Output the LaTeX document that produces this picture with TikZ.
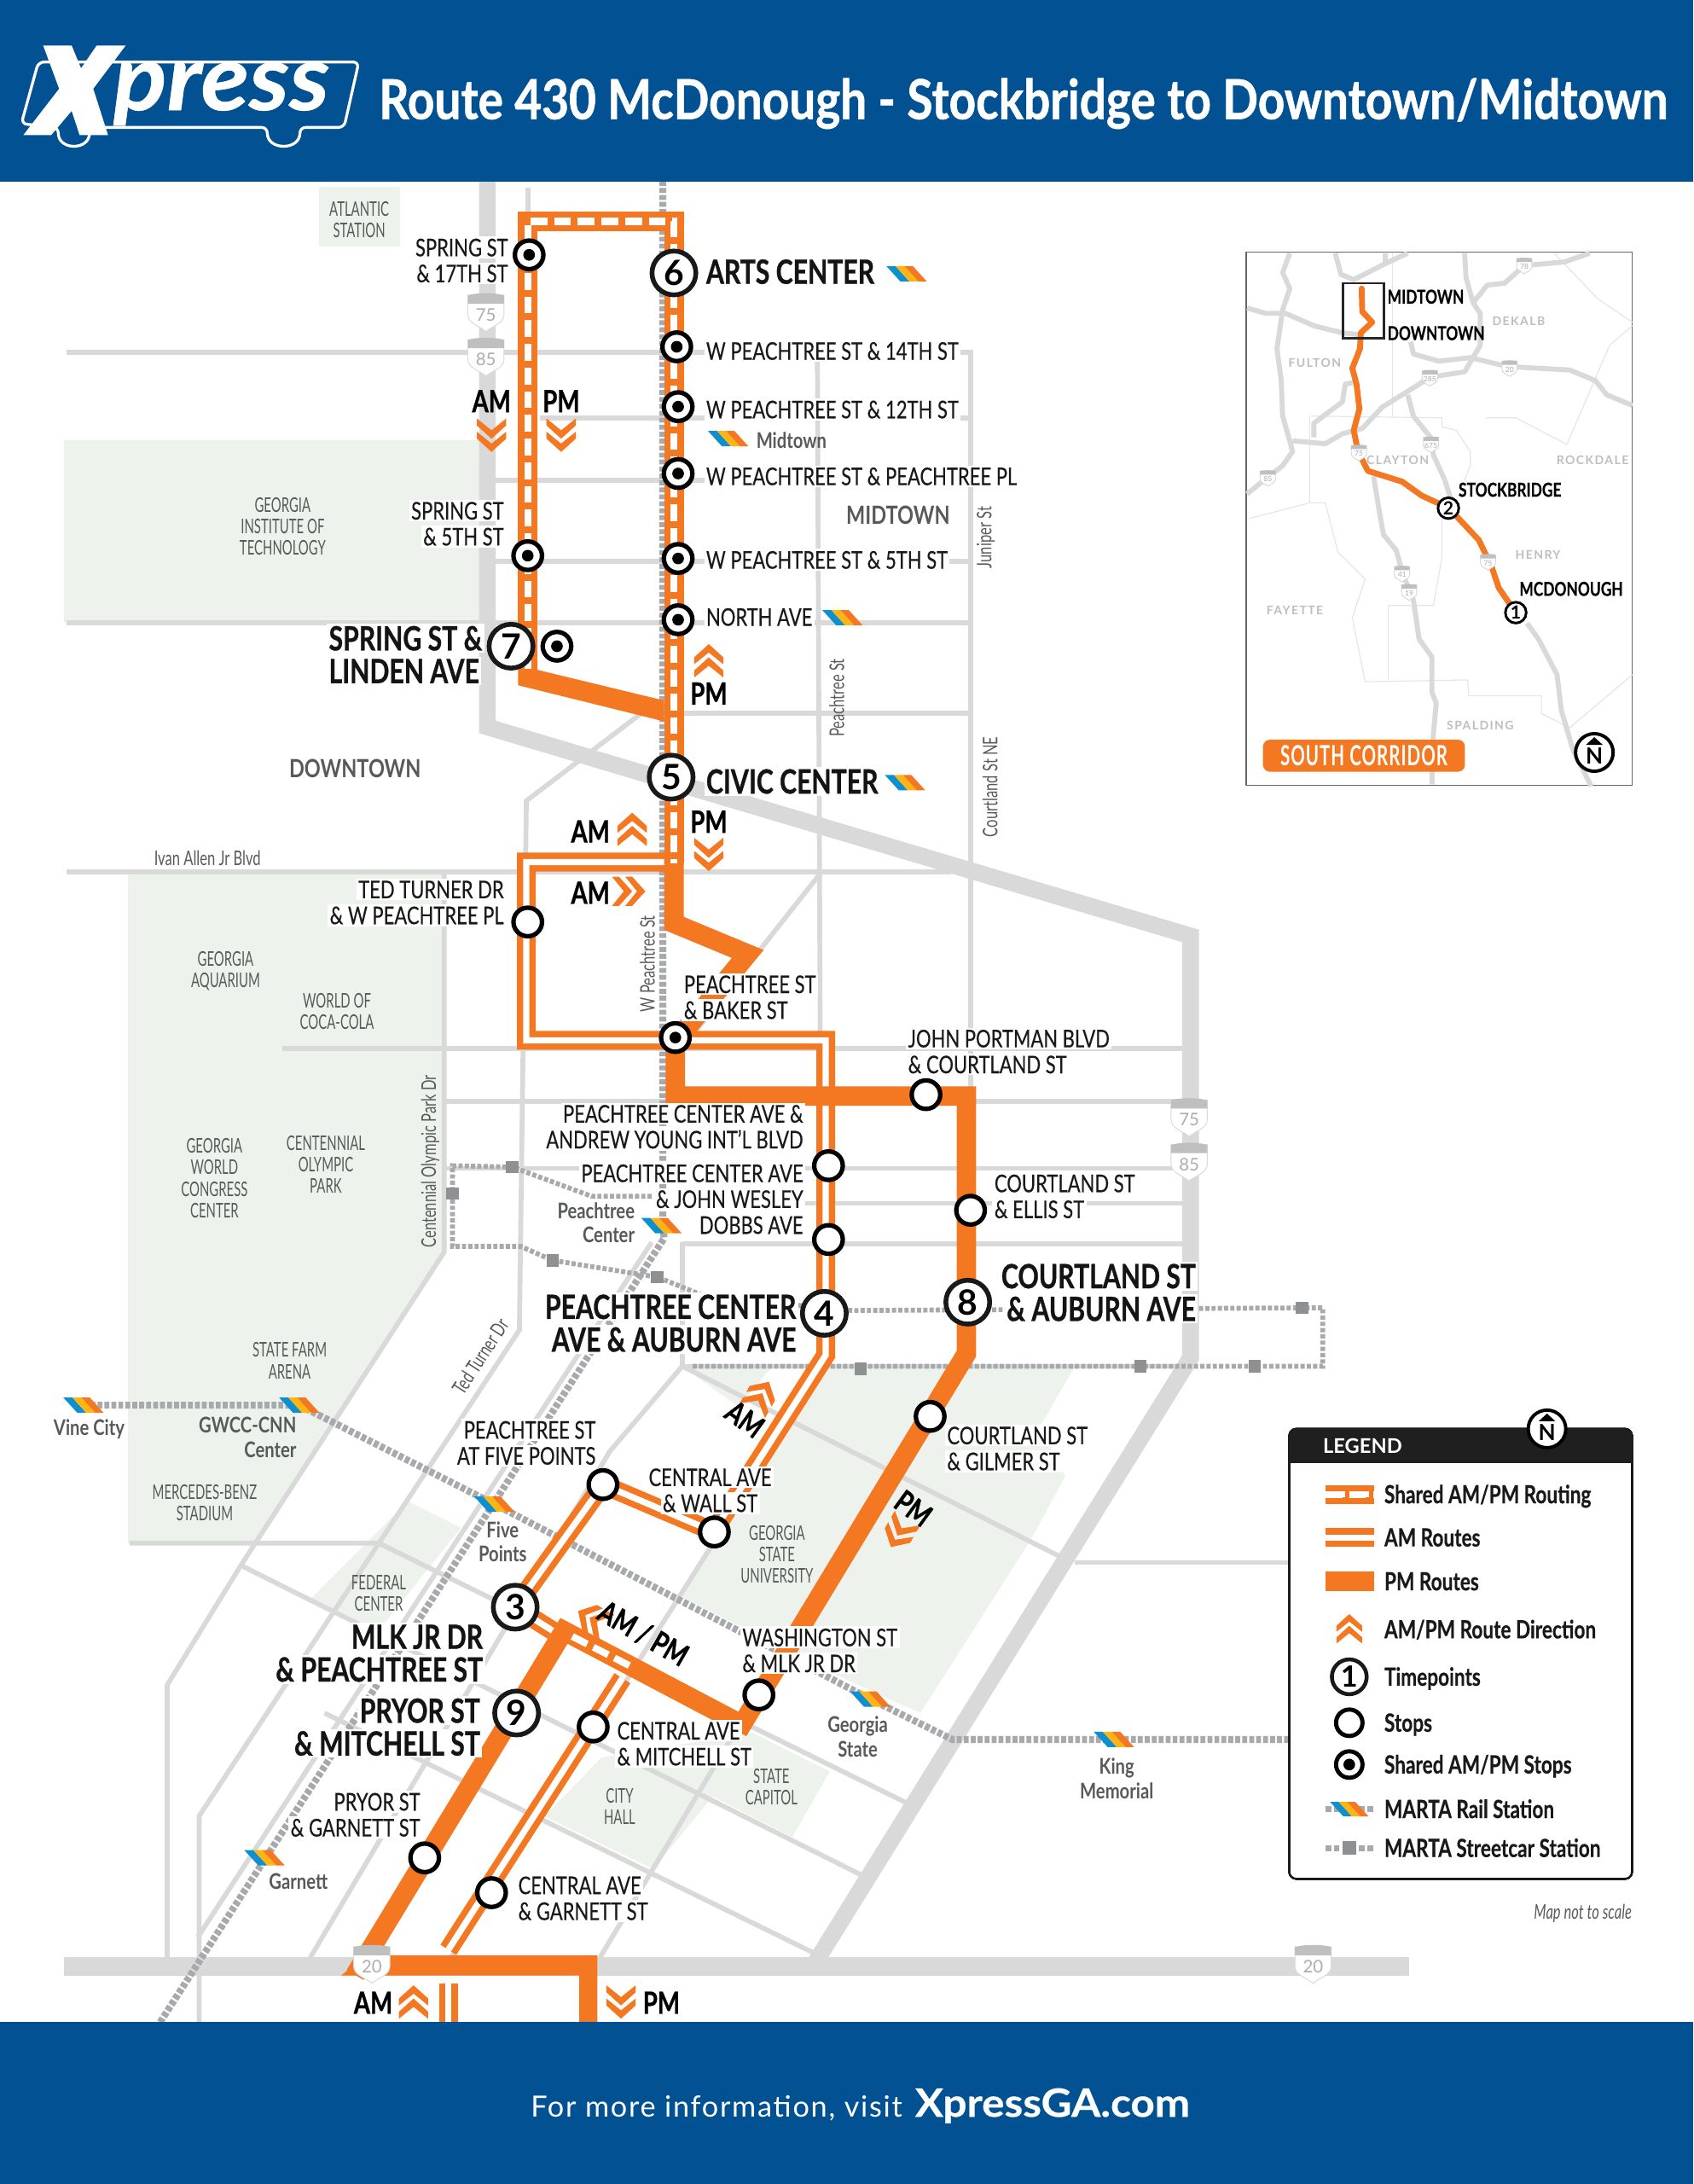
\documentclass[tikz,border=0pt]{standalone}
\usepackage{fontspec}
\usetikzlibrary{positioning}
\setmainfont{Lato}
\newfontfamily\cnd[FakeStretch=0.77,FakeBold=0.35]{Lato}
\newfontfamily\cndb[FakeStretch=0.77,FakeBold=0.7]{Lato}
\newfontfamily\stn[FakeStretch=0.80]{Lato}
\newfontfamily\plc[FakeStretch=0.63]{Lato}
\newfontfamily\strt[FakeStretch=0.70]{Lato}
\newfontfamily\ttl[FakeStretch=0.852,FakeBold=0.9]{Lato}
\newfontfamily\wid[FakeStretch=1.08,FakeBold=0.5]{Lato}
\definecolor{xblue}{HTML}{025193}
\definecolor{routeorange}{HTML}{F47721}
\definecolor{roadgray}{HTML}{D9D9D9}
\definecolor{parkgreen}{HTML}{EDF3EC}
\definecolor{dotgray}{HTML}{A7A9AC}
\definecolor{labelgray}{HTML}{58595B}
\definecolor{railblue}{HTML}{0E8FCF}
\definecolor{railyellow}{HTML}{FDB515}
% white band behind a line of a map label
\newsavebox{\hlbox}
\newcommand{\hl}[1]{\leavevmode\sbox{\hlbox}{#1}\rlap{\hspace{-1.5pt}\textcolor{white}{\rule[-1.5pt]{\dimexpr\wd\hlbox+3pt\relax}{\dimexpr\ht\hlbox+3pt\relax}}}\usebox{\hlbox}}
% interstate shield
\newcommand{\shieldSign}[4]{
  \begin{scope}[shift={(#1,#2)},scale=#3]
    \filldraw[fill=white,draw=roadgray,line width=0.6pt] (-13,-12) -- (13,-12) -- (13,2) .. controls (13,8) and (5,10) .. (0,14) .. controls (-5,10) and (-13,8) .. (-13,2) -- cycle;
    \fill[black!25] (-13,-12) .. controls (-6,-14) and (6,-14) .. (13,-12) -- (13,-6) -- (-13,-6) -- cycle;
    \node[font=\fontsize{12.5}{13}\selectfont,text=black!32,scale=#3] at (0,2) {#4};
  \end{scope}
}
\tikzset{
  road/.style={draw=roadgray,line width=3.5pt},
  highway/.style={draw=roadgray,line width=12pt},
  amroute/.style={draw=routeorange,line width=4.5pt,double=white,double distance=4.5pt,line join=miter},
  pmroute/.style={draw=routeorange,line width=14pt,line join=miter},
  sharedroute/.style={draw=routeorange,line width=14pt,line join=miter,postaction={draw=white,line width=5pt,dash pattern=on 12pt off 5pt}},
  raildots/.style={draw=dotgray,line width=5pt,dash pattern=on 3.5pt off 1.5pt},
  cardots/.style={draw=dotgray,line width=3.5pt,dash pattern=on 3pt off 1.5pt},
  carstop/.style={fill=dotgray!85!black,minimum size=9pt,inner sep=0pt},
  stopopen/.style={circle,draw=black,fill=white,line width=3.2pt,minimum size=20.5pt,inner sep=0pt},
  stopshared/.style={circle,draw=black,fill=white,line width=3.2pt,minimum size=20.5pt,inner sep=0pt,
    path picture={\fill[black] (path picture bounding box.center) circle (4.2pt);}},
  timepoint/.style={circle,draw=black!90,fill=white,line width=3.4pt,minimum size=31.5pt,inner sep=0pt,font=\bfseries\fontsize{25}{25}\selectfont},
  stoplbl/.style={font=\cnd\fontsize{17.5}{18.6}\selectfont,text=black!90,inner sep=0pt},
  biglbl/.style={font=\cndb\bfseries\fontsize{24}{23.5}\selectfont,text=black!92,inner sep=0pt},
  dirlbl/.style={font=\cndb\bfseries\fontsize{22}{22}\selectfont,text=black,inner sep=0pt},
  placelbl/.style={font=\plc\fontsize{14.5}{15.4}\selectfont,text=labelgray,align=center,inner sep=0pt},
  stationlbl/.style={font=\stn\bfseries\fontsize{15.5}{17.5}\selectfont,text=labelgray,inner sep=0pt},
  streetlbl/.style={font=\strt\fontsize{14.5}{14.5}\selectfont,text=labelgray,inner sep=0pt},
  countylbl/.style={font=\bfseries\fontsize{8.6}{9}\selectfont\addfontfeatures{LetterSpace=10},text=black!25,inner sep=0pt},
  insetlbl/.style={font=\cnd\bfseries\fontsize{13.8}{15}\selectfont,text=black,inner sep=0pt,anchor=west},
  legendlbl/.style={font=\cnd\bfseries\fontsize{18}{18}\selectfont,text=black!90,inner sep=0pt,anchor=west,text height=14pt,text depth=1.2pt},
  chevrons/.pic={
    \foreach \sh in {0,9.5}
      \fill[routeorange,pic actions] (-10.5,-3+\sh) -- (0,-12.5+\sh) -- (10.5,-3+\sh) -- (10.5,2+\sh) -- (0,-6.5+\sh) -- (-10.5,2+\sh) -- cycle;
  },
  railmark/.pic={
    \fill[railblue] (-14.5,-5.5) -- (-8,-5.5) -- (2,5.5) -- (-4.5,5.5) -- cycle;
    \fill[railyellow] (-8,-5.5) -- (-1.5,-5.5) -- (8.5,5.5) -- (2,5.5) -- cycle;
    \fill[routeorange] (-1.5,-5.5) -- (4.5,-5.5) -- (14.5,5.5) -- (8.5,5.5) -- cycle;
  },
  northmark/.pic={
    \filldraw[fill=white,draw=black,line width=2.4pt] (0,0) circle (13.5pt);
    \fill[black] (-6,-5.5) -- (0,-11) -- (6,-5.5) -- cycle;
    \node[font=\bfseries\fontsize{16}{16}\selectfont,text=black,inner sep=0pt] at (0,2.5) {N};
  },
}
\begin{document}
\begin{tikzpicture}[x=1pt,y=-1pt]
    \useasboundingbox (0,0) rectangle (1216,1568.2);
    % Parchi
    \fill[parkgreen] (229,134) rectangle (287,177);
    \fill[parkgreen] (46,316) rectangle (344,447);
    \fill[parkgreen] (92,628) -- (319,628) -- (319,899) -- (182,1108) -- (92,1108) -- cycle;
    \fill[parkgreen] (293,1078) -- (331,1097) -- (271,1172) -- (222,1149) -- cycle;
    \fill[parkgreen] (590,981) -- (772,981) -- (747,1024) -- (765,1060) -- (740,1106) -- (661,1230) -- (612,1208) -- (490,1147) -- (510,1110) -- (535,1075) -- cycle;
    \fill[parkgreen] (490,981) -- (555,981) -- (530,1010) -- cycle;
    \fill[parkgreen] (596,1272) -- (569,1319) -- (512,1290) -- (469,1342) -- (391,1304) -- (432,1262) -- (540,1244) -- cycle;
    % Strade orizzontali
    \draw[road] (48,253) -- (697,253) -- (697,981);
    \draw[road] (388,300) -- (697,300);
    \draw[road] (350,345) -- (697,345);
    \draw[road] (350,403) -- (697,403);
    \draw[road] (48,447) -- (697,447);
    \draw[road] (485,512) -- (697,512);
    \draw[road] (48,626) -- (683,626);
    \draw[road] (203,753) -- (855,753);
    \draw[road] (320,791) -- (855,791);
    \draw[road] (320,839) -- (855,839);
    \draw[road] (490,864) -- (855,864);
    \draw[road] (490,893) -- (855,893);
    \draw[road] (490,981) -- (855,981);
    \draw[road] (772,1122) -- (926,1122);
    \draw[road] (93,1108) -- (272,1108) -- (652,1295);
    \draw[road] (173,1124) -- (620,1347);
    \draw[road] (233,1230) -- (590,1405);
    \draw[road] (490,981) -- (762,1118);
    % Strade verticali e diagonali
    \draw[road] (379,135) -- (379,159);
    \draw[road] (587,253) -- (590,981);
    \draw[road] (470,505) -- (378,575) -- (373,955) -- (143,1304) -- (143,1452);
    \draw[road] (319,627) -- (319,899) -- (173,1124) -- (120,1210) -- (120,1412);
    \draw[road] (590,626) -- (500,740);
    \draw[road] (490,892) -- (490,981) -- (438,1042) -- (222,1407);
    \draw[road] (468,892) -- (142,1391);
    \draw[road] (590,985) -- (320,1412);
    \draw[road] (695,975) -- (545,1215) -- (430,1407);
    % Autostrade
    \draw[highway,line join=miter] (350,130) -- (350,522) -- (855,672) -- (855,975) -- (585,1410);
    \draw[highway,line width=13pt] (46,1412) -- (1012,1412);
    % Linee MARTA
    \draw[raildots] (476,130) -- (476,880) -- (477,889) -- (115,1452);
    \draw[raildots] (60,1009) -- (215,1009) -- (355,1080) -- (625,1220) -- (684,1249) -- (925,1249);
    \draw[cardots] (468,859) -- (425,859) -- (368,838) -- (325,837) -- (325,895) -- (374,895) -- (397,905) -- (472,917) -- (507,931) -- (612,941) -- (950,939) -- (950,981) -- (497,981);
    \foreach \cx/\cy [count=\ci] in {368/838,325/857,397/905,472/917,935/939,901/981,819/981,618/983}
      \node[carstop] (car\ci) at (\cx,\cy) {};
    % Percorsi AM
    \draw[amroute] (484,619) -- (378,619) -- (378,747) -- (593,747) -- (593,973) -- (516,1094);
    \draw[amroute] (513,1100) -- (433,1066) -- (370,1154) -- (397,1171);
    \draw[amroute] (447,1205) -- (322,1400);
    \draw[amroute] (322,1424) -- (322,1452);
    % Percorsi PM
    \fill[routeorange] (372,475) -- (386,475) -- (386,481) -- (477,503) -- (477,518) -- (372,492) -- cycle;
    \draw[pmroute] (484,615) -- (484,663) -- (537,685) -- (490,742);
    \draw[pmroute] (485,745) -- (485,787) -- (694,787) -- (694,972) -- (530,1243);
    \draw[pmroute] (255,1418) -- (405,1171) -- (536,1240);
    \fill[routeorange] (416,1452) -- (429,1452) -- (429,1404) -- (262,1404) -- (245,1418.5) -- (416,1418.5) -- cycle;
    % Percorso condiviso
    \draw[sharedroute] (379,480) -- (379,159) -- (484,159) -- (484,620);
    \draw[white,line width=5pt,dash pattern=on 12pt off 5pt] (411,1175) -- (456,1198);
    % Frecce di direzione
    \foreach \ax/\ay/\ar [count=\ai] in {353/312/180,403/312/180,509/475/0,454/596/0,509/613/180,451/640/-90,546/1003/-30,646/1100/150,426/1163/60,297/1438/0,446/1437/180}
      \pic (arrow\ai) at (\ax,\ay) [rotate=\ar] {chevrons};
    % Stazioni MARTA
    \foreach \rx/\ry [count=\ri] in {651/196.5,523/315,605/443.5,650/562,475/880,60/1009,215/1009,355/1080,625/1220,800/1249,190/1334}
      \pic (rail\ri) at (\rx,\ry) {railmark};
    % Fermate
    \foreach \sx/\sy/\sname in {380/183/spring17,486/249/west14,487/292/west12,487/340/westpl,487/401/west5,487/445/north,379/399/spring5,400/464/linden,485/745/baker}
      \node[stopshared] (\sname) at (\sx,\sy) {};
    \foreach \sx/\sy/\sname in {379/662/tedturner,665/786/portman,595/837/andrew,595/890/dobbs,697/869/ellis,668/1017/gilmer,433/1066/fivepts,513/1100/wall,545/1217/washington,426/1240/mitchell,353/1359/garnettc,305/1334/garnettp}
      \node[stopopen] (\sname) at (\sx,\sy) {};
    % Punti orari
    \foreach \tx/\ty/\tnum in {484/196/6,482/558/5,367/464/7,592/943/4,695/935/8,370/1154/3,371/1230/9}
      \node[timepoint] (tp\tnum) at (\tx,\ty) {\tnum};
    % Nomi dei parchi e dei luoghi
    \node[placelbl] (atlantic) at (258,158) {ATLANTIC\\STATION};
    \node[placelbl] (tech) at (203,378) {GEORGIA\\INSTITUTE OF\\TECHNOLOGY};
    \node[placelbl] (aquarium) at (162,697) {GEORGIA\\AQUARIUM};
    \node[placelbl] (coca) at (242,726) {WORLD OF\\COCA-COLA};
    \node[placelbl] (gwcc) at (154,846) {GEORGIA\\WORLD\\CONGRESS\\CENTER};
    \node[placelbl] (olympic) at (234,836) {CENTENNIAL\\OLYMPIC\\PARK};
    \node[placelbl] (farm) at (208,977) {STATE FARM\\ARENA};
    \node[placelbl] (mercedes) at (147,1079) {MERCEDES-BENZ\\STADIUM};
    \node[placelbl] (federal) at (272,1144) {FEDERAL\\CENTER};
    \node[placelbl] (gsu) at (558,1116) {GEORGIA\\STATE\\UNIVERSITY};
    \node[placelbl] (capitol) at (554,1283) {STATE\\CAPITOL};
    \node[placelbl] (cityhall) at (445,1297) {CITY\\HALL};
    \node[stationlbl,font=\stn\bfseries\fontsize{18}{18}\selectfont] (midtownlbl) at (645,370) {MIDTOWN};
    \node[stationlbl,font=\stn\bfseries\fontsize{18}{18}\selectfont] (downtownlbl) at (255,552) {DOWNTOWN};
    % Nomi delle strade
    \node[streetlbl] (ivan) at (149,616) {Ivan Allen Jr Blvd};
    \node[streetlbl,rotate=90] (juniper) at (708,386) {Juniper St};
    \node[streetlbl,rotate=90] (peachst) at (601,501) {Peachtree St};
    \node[streetlbl,rotate=90] (courtst) at (711,565) {Courtland St NE};
    \node[streetlbl,rotate=90] (westst) at (465,692) {W Peachtree St};
    \node[streetlbl,rotate=90] (centst) at (309,834) {Centennial Olympic Park Dr};
    \node[streetlbl,rotate=57] (tedst) at (345,974) {Ted Turner Dr};
    % Nomi delle stazioni
    \node[stationlbl,anchor=west] (s1) at (543,316) {Midtown};
    \node[stationlbl,anchor=east,align=right] (s2) at (456,878) {Peachtree\\Center};
    \node[stationlbl] (s3) at (64,1026) {Vine City};
    \node[stationlbl,anchor=east,align=right] (s4) at (213,1032) {GWCC-CNN\\Center};
    \node[stationlbl,align=center] (s5) at (361,1107) {Five\\Points};
    \node[stationlbl,align=center] (s6) at (616,1247) {Georgia\\State};
    \node[stationlbl,align=center] (s7) at (802,1277) {King\\Memorial};
    \node[stationlbl,anchor=west] (s8) at (193,1351) {Garnett};
    % Etichette delle fermate
    \node[stoplbl,anchor=east,align=right] (l1) at (365,187) {\hl{SPRING ST}\\\hl{\& 17TH ST}};
    \node[stoplbl,anchor=east,align=right] (l2) at (362,376) {\hl{SPRING ST}\\\hl{\& 5TH ST}};
    \node[stoplbl,anchor=west] (l3) at (507,252) {\hl{W PEACHTREE ST \& 14TH ST}};
    \node[stoplbl,anchor=west] (l4) at (507,294) {\hl{W PEACHTREE ST \& 12TH ST}};
    \node[stoplbl,anchor=west] (l5) at (507,342) {\hl{W PEACHTREE ST \& PEACHTREE PL}};
    \node[stoplbl,anchor=west] (l6) at (507,402) {\hl{W PEACHTREE ST \& 5TH ST}};
    \node[stoplbl,anchor=west] (l7) at (507,443) {\hl{NORTH AVE}};
    \node[stoplbl,anchor=east,align=right] (l8) at (362,648) {\hl{TED TURNER DR}\\\hl{\& W PEACHTREE PL}};
    \node[stoplbl,anchor=west,align=left] (l9) at (491,716) {\hl{PEACHTREE ST}\\\hl{\& BAKER ST}};
    \node[stoplbl,anchor=west,align=left] (l10) at (652,755) {\hl{JOHN PORTMAN BLVD}\\\hl{\& COURTLAND ST}};
    \node[stoplbl,anchor=east,align=right] (l11) at (577,809) {\hl{PEACHTREE CENTER AVE \&}\\\hl{ANDREW YOUNG INT’L BLVD}};
    \node[stoplbl,anchor=east,align=right] (l12) at (577,861) {\hl{PEACHTREE CENTER AVE}\\\hl{\& JOHN WESLEY}\\\hl{DOBBS AVE}};
    \node[stoplbl,anchor=west,align=left] (l13) at (714,859) {\hl{COURTLAND ST}\\\hl{\& ELLIS ST}};
    \node[stoplbl,anchor=west,align=left] (l14) at (680,1040) {\hl{COURTLAND ST}\\\hl{\& GILMER ST}};
    \node[stoplbl,anchor=east,align=right] (l15) at (428,1036) {\hl{PEACHTREE ST}\\\hl{AT FIVE POINTS}};
    \node[stoplbl,align=center] (l16) at (510,1070) {\hl{CENTRAL AVE}\\\hl{\& WALL ST}};
    \node[stoplbl,anchor=west,align=left] (l17) at (533,1185) {\hl{WASHINGTON ST}\\\hl{\& MLK JR DR}};
    \node[stoplbl,anchor=west,align=left] (l18) at (443,1252) {\hl{CENTRAL AVE}\\\hl{\& MITCHELL ST}};
    \node[stoplbl,anchor=west,align=left] (l19) at (372,1363) {\hl{CENTRAL AVE}\\\hl{\& GARNETT ST}};
    \node[stoplbl,anchor=east,align=right] (l20) at (302,1303) {\hl{PRYOR ST}\\\hl{\& GARNETT ST}};
    % Etichette dei punti orari
    \node[biglbl,anchor=west] (b1) at (507,195) {\hl{ARTS CENTER}};
    \node[biglbl,anchor=west] (b2) at (507,561) {\hl{CIVIC CENTER}};
    \node[biglbl,anchor=west,align=left] (b3) at (236,470) {\hl{SPRING ST \&}\\\hl{LINDEN AVE}};
    \node[biglbl,anchor=east,align=right] (b4) at (572,950) {\hl{PEACHTREE CENTER}\\\hl{AVE \& AUBURN AVE}};
    \node[biglbl,anchor=east,align=right] (b5) at (859,928) {\hl{COURTLAND ST}\\\hl{\& AUBURN AVE}};
    \node[biglbl,anchor=east,align=right] (b6) at (347,1187) {\hl{MLK JR DR}\\\hl{\& PEACHTREE ST}};
    \node[biglbl,anchor=east,align=right] (b7) at (345,1240) {\hl{PRYOR ST}\\\hl{\& MITCHELL ST}};
    % AM e PM
    \node[dirlbl] (d1) at (353,288) {AM};
    \node[dirlbl] (d2) at (403,288) {PM};
    \node[dirlbl] (d3) at (509,498) {PM};
    \node[dirlbl] (d4) at (424,597) {AM};
    \node[dirlbl] (d5) at (509,590) {PM};
    \node[dirlbl] (d6) at (424,641) {AM};
    \node[dirlbl,rotate=-36] (d7) at (535,1019) {AM};
    \node[dirlbl,rotate=-36] (d8) at (656,1083) {PM};
    \node[dirlbl,rotate=-30] (d9) at (462,1173) {AM / PM};
    \node[dirlbl] (d10) at (268,1438) {AM};
    \node[dirlbl] (d11) at (475,1438) {PM};
    % Scudi
    \foreach \hx/\hy/\hnum in {349/224/75,349/256/85,854/802/75,854/834/85,267/1410/20,943/1410/20}
      \shieldSign{\hx}{\hy}{1}{\hnum}
    % Riquadro sud
    \filldraw[fill=white,draw=black!60,line width=0.8pt] (895,181) rectangle (1172,564);
    \begin{scope}[shift={(882.35,171.6)},x=0.2042pt,y=-0.2543pt]
        % confini
        \foreach \cpath in {{(290,500) -- (750,505) -- (750,530) -- (800,540) -- (850,600) -- (850,640) -- (830,680)},{(905,505) -- (1010,505) -- (1190,580) -- (1340,300) -- (1420,245)},{(285,500) -- (285,745) -- (70,790)},{(285,745) -- (340,745) -- (385,885) -- (480,960) -- (435,1070) -- (480,1250) -- (840,1245) -- (845,1290) -- (1100,1290) -- (1100,1340) -- (1200,1380) -- (1420,1230)},{(560,1035) -- (560,1245)},{(560,1035) -- (720,1035) -- (750,900) -- (750,790)},{(575,40) -- (575,500)},{(1145,40) -- (1300,170) -- (1420,235)}}
          \draw[black!10,line width=0.7pt] \cpath;
        % autostrade
        \foreach \hpath in {{(375,40) -- (395,100) -- (440,115) -- (550,70) -- (630,40)},{(550,40) -- (550,70)},{(215,40) -- (190,95) -- (215,140) -- (190,200) -- (170,310) -- (185,400) -- (190,500) -- (215,570) -- (225,600) -- (190,640) -- (110,690) -- (65,720)},{(65,195) -- (130,210) -- (200,210) -- (300,245) -- (400,265) -- (460,270)},{(830,40) -- (835,110) -- (860,180) -- (885,210) -- (885,300) -- (830,375) -- (710,390) -- (630,430) -- (540,475) -- (470,535) -- (400,550) -- (340,578) -- (225,570)},{(860,180) -- (910,130) -- (970,125) -- (1040,75) -- (1180,65) -- (1270,40)},{(640,290) -- (650,325) -- (740,345) -- (850,335) -- (980,360) -- (1200,370) -- (1290,400) -- (1330,440) -- (1420,470)},{(300,560) -- (300,520) -- (400,460) -- (410,410) -- (440,405)},{(630,440) -- (650,500) -- (710,560) -- (720,610) -- (760,680) -- (780,730)},{(510,670) -- (530,770) -- (545,835) -- (590,880) -- (610,940) -- (650,1020) -- (670,1130) -- (715,1180) -- (715,1280) -- (730,1310) -- (720,1400) -- (715,1540)},{(1050,1085) -- (1090,1130) -- (1155,1230) -- (1170,1330) -- (1210,1440) -- (1275,1545)}}
          \draw[roadgray,line width=3.6pt,line join=round] \hpath;
        % percorso
        \draw[routeorange,line width=4.2pt,line join=round,line cap=round] (468,140) -- (470,205) -- (505,235) -- (465,265) -- (462,310) -- (435,365) -- (450,410) -- (460,480) -- (440,540) -- (455,600) -- (490,655) -- (610,685) -- (680,725) -- (775,760) -- (880,850) -- (925,925) -- (950,985) -- (1010,1055);
        \draw[black!85,line width=1.5pt] (402,125) rectangle (546,280);
        \node[countylbl] (fulton) at (303,350) {FULTON};
        \node[countylbl] (dekalb) at (1020,232) {DEKALB};
        \node[countylbl] (clayton) at (595,625) {CLAYTON};
        \node[countylbl] (rockdale) at (1280,625) {ROCKDALE};
        \node[countylbl] (henry) at (1088,892) {HENRY};
        \node[countylbl] (fayette) at (233,1048) {FAYETTE};
        \node[countylbl] (spalding) at (885,1373) {SPALDING};
        \node[insetlbl] (imid) at (558,163) {MIDTOWN};
        \node[insetlbl] (idown) at (558,266) {DOWNTOWN};
        \node[insetlbl] (istock) at (808,708) {STOCKBRIDGE};
        \node[insetlbl] (imcd) at (1022,988) {MCDONOUGH};
        \node[circle,draw=black,fill=white,line width=1.8pt,minimum size=15pt,inner sep=0pt,font=\bfseries\fontsize{13}{13}\selectfont] (tp2) at (773,760) {2};
        \node[circle,draw=black,fill=white,line width=1.8pt,minimum size=15pt,inner sep=0pt,font=\bfseries\fontsize{13}{13}\selectfont] (tp1) at (1010,1055) {1};
        \node[fill=routeorange,rounded corners=5pt,minimum width=145pt,minimum height=23pt,inner sep=0pt,text=white,font=\plc\bfseries\fontsize{20}{20}\selectfont\addfontfeatures{LetterSpace=3}] (corridor) at (476,1459) {SOUTH CORRIDOR};
    \end{scope}
    \pic (inorth) at (1145,540.3) {northmark};
    \foreach \hx/\hy/\hnum in {1094.7/190.7/78,1026.9/271.3/285,1084.1/264.4/20,975.9/325/75,1027.7/319.1/675,910.5/343.3/85,1068.6/403.5/75,1006.9/411.9/41,1012/425.1/19}
      \shieldSign{\hx}{\hy}{0.42}{\hnum}
    % Legenda
    \filldraw[fill=white,draw=black!90,line width=1.4pt,rounded corners=5pt] (926,1026) rectangle (1172,1349);
    \fill[black!88,rounded corners=5pt] (925.3,1026) -- (1172.7,1026) -- (1172.7,1050.5) -- (925.3,1050.5) -- cycle;
    \fill[black!88] (925.3,1036) rectangle (1172.7,1050.5);
    \node[font=\bfseries\fontsize{14.5}{15}\selectfont,text=white,anchor=west,inner sep=0pt] (legendtitle) at (950,1038) {LEGEND};
    \pic (lnorth) at (1111,1026) {northmark};
    \draw[sharedroute,line width=13.5pt,postaction={draw=white,line width=4.5pt,dash pattern=on 12pt off 5pt,dash phase=-2pt}] (952,1073) -- (987,1073);
    \draw[amroute] (952,1104) -- (987,1104);
    \draw[pmroute] (952,1135.5) -- (987,1135.5);
    \pic (lchev) at (969,1170) [scale=0.88] {chevrons};
    \node[timepoint,minimum size=25pt,line width=2.8pt,font=\bfseries\fontsize{21}{21}\selectfont] (ltime) at (969,1204) {1};
    \node[stopopen,minimum size=19pt,line width=3pt] (lstop) at (969,1237) {};
    \node[stopshared,minimum size=19pt,line width=3pt] (lshared) at (969,1267) {};
    \draw[cardots,line width=4.5pt,dash pattern=on 4pt off 2pt] (952,1299) -- (987,1299);
    \pic (lrail) at (969,1299) [scale=0.95] {railmark};
    \draw[cardots,line width=4.5pt,dash pattern=on 4pt off 2pt] (952,1327) -- (987,1327);
    \node[carstop,minimum size=10pt] (lcar) at (969,1327) {};
    \node[legendlbl] (t1) at (994,1073) {Shared AM/PM Routing};
    \node[legendlbl] (t2) at (994,1104) {AM Routes};
    \node[legendlbl] (t3) at (994,1135.5) {PM Routes};
    \node[legendlbl] (t4) at (994,1170) {AM/PM Route Direction};
    \node[legendlbl] (t5) at (994,1204) {Timepoints};
    \node[legendlbl] (t6) at (994,1237) {Stops};
    \node[legendlbl] (t7) at (994,1267) {Shared AM/PM Stops};
    \node[legendlbl] (t8) at (994,1299) {MARTA Rail Station};
    \node[legendlbl] (t9) at (994,1327) {MARTA Streetcar Station};
    \node[font=\strt\itshape\fontsize{14.5}{14.5}\selectfont,text=labelgray,anchor=east,inner sep=0pt] (scalenote) at (1172,1374) {Map not to scale};
    % Testata
    \fill[xblue] (0,0) rectangle (1216,130.4);
    \begin{scope}[shift={(6.13,18.4)},x=0.2042pt,y=-0.2042pt]
        \draw[white,line width=2pt,line join=round,rounded corners=4pt] (105,128) -- (1232,128) -- (1180,358) -- (1025,358) .. controls (1025,440) and (910,440) .. (910,358) -- (285,358) .. controls (285,440) and (175,440) .. (175,358) -- (45,345) -- cycle;
        \fill[white] (122,70) -- (222,70) -- (255,150) -- (310,70) -- (412,70) -- (298,222) -- (350,385) -- (250,385) -- (222,300) -- (150,385) -- (52,385) -- (178,222) -- cycle;
        \node[font=\wid\bfseries\itshape\fontsize{66}{66}\selectfont,text=white,anchor=west,inner sep=0pt] (presslbl) at (368,240) {press};
    \end{scope}
    \node[font=\ttl\bfseries\fontsize{39.5}{40}\selectfont,text=white,anchor=base west,inner sep=0pt] (headline) at (272,85.5) {Route 430 McDonough - Stockbridge to Downtown/Midtown};
    % Piede
    \fill[xblue] (0,1452) rectangle (1216,1568.2);
    \node[font=\fontsize{21}{21}\selectfont\addfontfeatures{LetterSpace=5},text=white,anchor=west,inner sep=0pt] (foota) at (381,1514) {For more information, visit};
    \node[font=\wid\bfseries\fontsize{28}{28}\selectfont,text=white,anchor=west,inner sep=0pt] (footb) at (657,1512) {XpressGA.com};
\end{tikzpicture}
\end{document}
